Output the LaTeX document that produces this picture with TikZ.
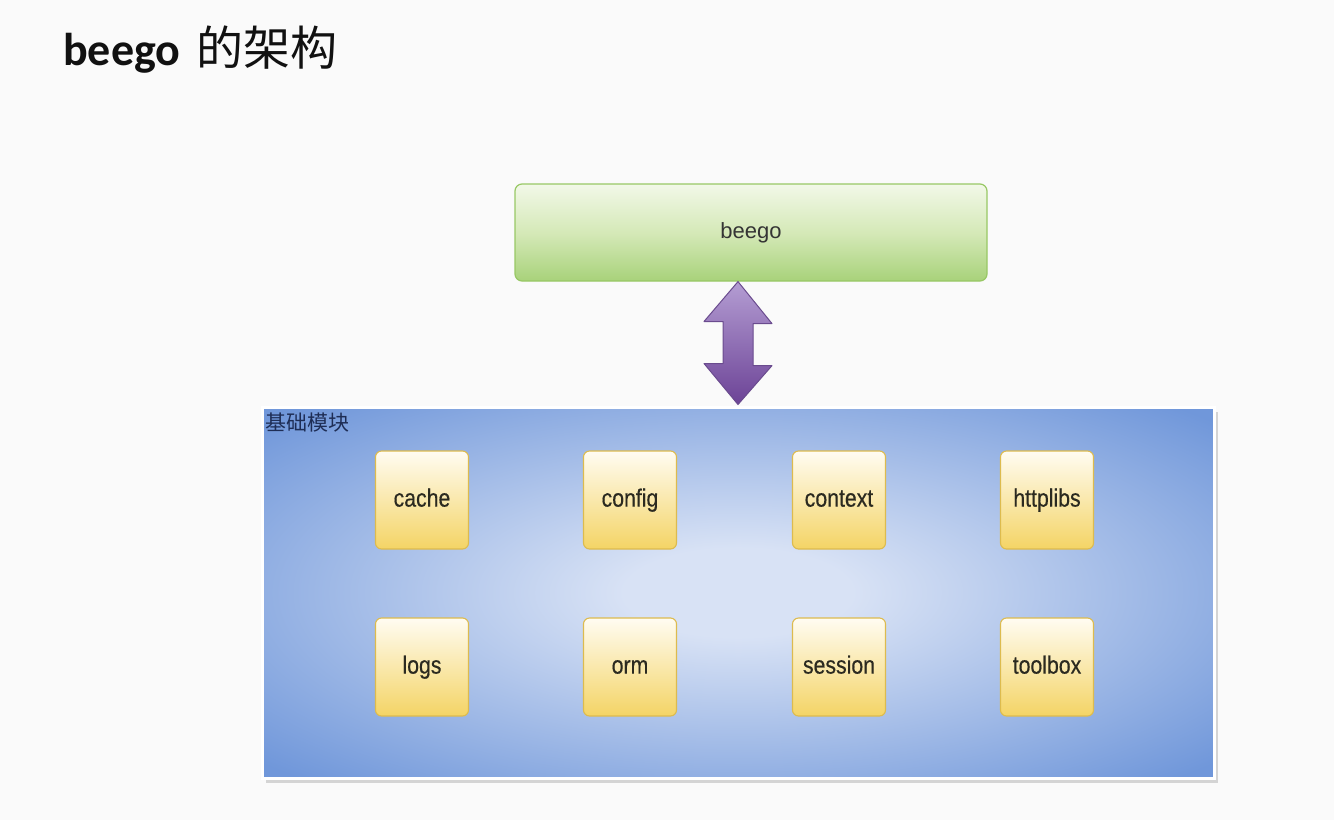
\documentclass[tikz,border=0pt]{standalone}
\usepackage{fontspec}
\setmainfont{Liberation Sans}
\newfontfamily\titlefont{Carlito}
\newfontfamily\cjk{Noto Sans CJK SC}
\newfontfamily\narrowfont[FakeStretch=0.85,FakeBold=0.4]{Liberation Sans}
\usetikzlibrary{shadows,calc}
\definecolor{bg}{HTML}{FAFAFA}
\definecolor{titlecol}{HTML}{111111}
\definecolor{greentop}{HTML}{F2F8E8}
\definecolor{greenmid}{HTML}{D5E9B8}
\definecolor{greenbot}{HTML}{A8D27A}
\definecolor{greenline}{HTML}{98C865}
\definecolor{purptop}{HTML}{B49DD3}
\definecolor{purpbot}{HTML}{6C4396}
\definecolor{purpline}{HTML}{6A4B8E}
\definecolor{bluein}{HTML}{D8E2F5}
\definecolor{blueout}{HTML}{7097DA}
\definecolor{labelcol}{HTML}{1E2D55}
\definecolor{yeltop}{HTML}{FFFCF2}
\definecolor{yelmid}{HTML}{FBEDB8}
\definecolor{yelbot}{HTML}{F4D465}
\definecolor{yelline}{HTML}{DDBB4E}
\definecolor{modtext}{HTML}{2B2A20}
\pgfdeclareradialshading{modshade}{\pgfpoint{0bp}{0bp}}{color(0bp)=(bluein); color(6bp)=(bluein); color(34bp)=(blueout); color(50bp)=(blueout)}
\begin{document}
\begin{tikzpicture}[x=1pt,y=-1pt,
  topbox/.style={draw=greenline, line width=1.2pt, rounded corners=7pt,
    top color=greentop, bottom color=greenbot, middle color=greenmid,
    minimum width=472pt, minimum height=97pt, inner sep=0pt,
    font=\fontsize{22}{26}\selectfont, text=titlecol!85},
  modarea/.style={draw=white, line width=3pt, shading=modshade,
    drop shadow={shadow xshift=4pt, shadow yshift=-5pt, opacity=0.25, fill=black!60},
    minimum width=952pt, minimum height=371pt, inner sep=0pt},
  modbox/.style={draw=yelline, line width=1.1pt, rounded corners=6pt,
    top color=yeltop, middle color=yelmid, bottom color=yelbot,
    minimum width=93pt, minimum height=98pt, inner sep=0pt,
    text height=18.7pt, text depth=5.5pt,
    font=\narrowfont\fontsize{25}{30}\selectfont, text=modtext},
  dblarrow/.style={draw=purpline, line width=1pt, top color=purptop, bottom color=purpbot, line join=round}
]
\useasboundingbox[fill=bg] (0,0) rectangle (1334,820);

\node[anchor=base west, inner sep=0pt, text=titlecol] (title) at (63,65)
  {{\titlefont\bfseries\fontsize{46}{50}\selectfont beego}\hspace{16pt}{\cjk\fontsize{47}{50}\selectfont 的架构}};

\node[topbox] (beego) at (751,232.5) {beego};

\node[modarea] (mods) at (738,592.5) {};
\node[anchor=north west, inner sep=0pt, text=labelcol, font=\cjk\fontsize{21}{24}\selectfont] (modlabel) at (265,413) {基础模块};

\node[modbox] (cache)    at (422,500) {cache};
\node[modbox] (config)   at (630,500) {config};
\node[modbox] (context)  at (839,500) {context};
\node[modbox] (httplibs) at (1047,500) {httplibs};
\node[modbox] (logs)     at (422,667) {logs};
\node[modbox] (orm)      at (630,667) {orm};
\node[modbox] (session)  at (839,667) {session};
\node[modbox] (toolbox)  at (1047,667) {toolbox};

\coordinate (atop) at (mods.north |- beego.south);
\coordinate (abot) at ($(mods.north)+(0,-1)$);
\path[dblarrow] (atop) -- ++(34,42) -- ++(-19,0) -- ++(0,42) -- ++(19,0) -- (abot)
  -- ++(-34,-41) -- ++(19,0) -- ++(0,-42) -- ++(-19,0) -- cycle;
\end{tikzpicture}
\end{document}
